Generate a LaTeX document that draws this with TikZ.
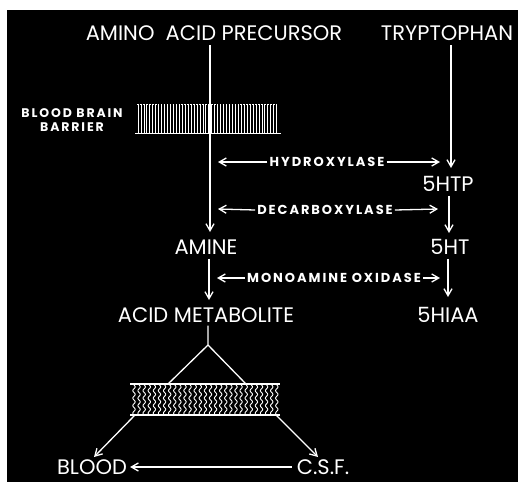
\documentclass[tikz,border=0pt]{standalone}
\usepackage{fontspec}
\setmainfont{Poppins}
\usetikzlibrary{arrows.meta}
\begin{document}
\begin{tikzpicture}[x=1pt,y=-1pt,
  lbl/.style={text=white,font=\fontsize{21}{21}\selectfont,inner sep=1pt},
  enz/.style={text=white,font=\bfseries\fontsize{13}{14}\selectfont\addfontfeature{LetterSpace=15},inner sep=2pt},
  small/.style={text=white,font=\bfseries\fontsize{12.5}{13}\selectfont\addfontfeature{LetterSpace=15},inner sep=1pt,align=center},
  ln/.style={white,line width=1.3pt},
  arr/.style={ln,-{Straight Barb[length=7pt,width=8pt]}}]
\useasboundingbox (0,0) rectangle (518,482);
\fill[white] (0,0) rectangle (518,482);
\fill[black] (7,10) rectangle (518,482);
% labels
\node[lbl] (prec) at (214,33) {AMINO\ \ ACID PRECURSOR};
\node[lbl] (tryp) at (447,33) {TRYPTOPHAN};
\node[small] (bbb) at (72,120) {BLOOD BRAIN\\[1pt]BARRIER};
\node[lbl] (shtp) at (448,184) {5HTP};
\node[lbl] (amine) at (206,247) {AMINE};
\node[lbl] (sht) at (450,247) {5HT};
\node[lbl] (acid) at (206,315) {ACID METABOLITE};
\node[lbl] (shiaa) at (448,315) {5HIAA};
\node[lbl] (blood) at (92,467) {BLOOD};
\node[lbl] (csf) at (323,467) {C.S.F.};
\node[enz] (hyd) at (327,162) {HYDROXYLASE};
\node[enz] (dec) at (325,210) {DECARBOXYLASE};
\node[enz] (mao) at (334,278) {MONOAMINE OXIDASE};
% coordinates
\coordinate (lt) at (210,45);
\coordinate (lb) at (210,232);
\coordinate (rt) at (451,45);
\coordinate (rb) at (451,168);
\coordinate (hl) at (218,162);
\coordinate (hr) at (440,162);
\coordinate (dl) at (218,209);
\coordinate (dr) at (438,209);
\coordinate (ml) at (217,278);
\coordinate (mr) at (440,278);
\coordinate (fork) at (208,345);
\coordinate (wl) at (168,384);
\coordinate (wr) at (246,384);
\coordinate (bl) at (135,415);
\coordinate (br) at (276,415);
\coordinate (bt) at (94,457);
\coordinate (ct) at (318,457);
% blood brain barrier
\foreach \i in {0,...,47} {
  \draw[white,line width=0.8pt] ({138+2.95*\i},104) -- ({138+2.95*\i},133);
  \draw[white,line width=0.6pt] ({137.2+2.95*\i},104.4) -- ({138.8+2.95*\i},104.4);
}
\draw[white,line width=1.4pt] (135,133.5) -- (281,133.5);
% main vertical arrows
\draw[arr] (lt) -- (lb);
\draw[arr] (rt) -- (rb);
\draw[arr] (shtp.south -| 449,0) ++(0,3) -- (449,233);
\draw[arr] (sht.south -| 448,0) ++(0,3) -- (448,297);
\draw[arr] (amine.south -| 209,0) ++(0,3) -- (209,300);
% enzyme arrows
\draw[arr] (hyd.west) -- (hl);
\draw[arr] (hyd.east) -- (hr);
\draw[arr] (dec.west) -- (dl);
\draw[arr] (dec.east) -- (dr);
\draw[arr] (mao.west) -- (ml);
\draw[arr] (mao.east) -- (mr);
% fork
\draw[ln] (acid.south -| fork) ++(0,2) -- (fork) -- (wl);
\draw[ln] (fork) -- (wr);
% wavy membrane
\draw[white,line width=1.4pt] (130,384) -- (280,384);
\draw[white,line width=1.4pt] (130,415) -- (280,415);
\foreach \i in {0,...,28} {
  \draw[white,line width=0.9pt] plot[domain=385:414,samples=40,smooth]
    ({134+5.1*\i+1.2*sin((\x-385)*360/7.5)},\x);
}
% outflow arrows
\draw[arr] (bl) -- (bt);
\draw[arr] (br) -- (ct);
\draw[arr,shorten <=4pt,shorten >=2pt] (csf.west) -- (blood.east);
\end{tikzpicture}
\end{document}
